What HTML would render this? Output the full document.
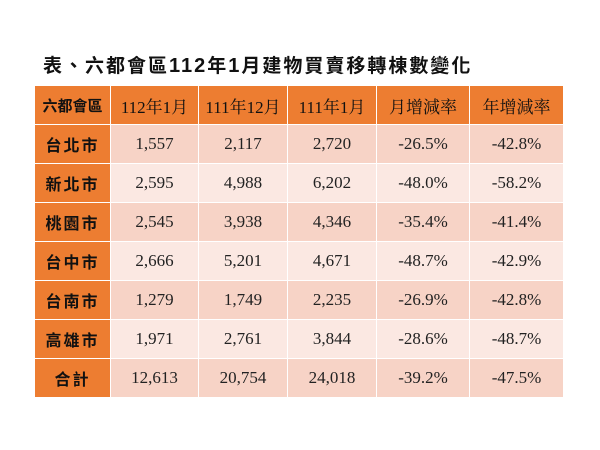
<!DOCTYPE html>
<html><head><meta charset="utf-8"><style>
body{margin:0;width:600px;height:450px;background:#fff;overflow:hidden;position:relative}
#title{position:absolute;left:43px;top:51px;font:bold 19px "Liberation Sans","Noto Sans CJK TC",sans-serif;letter-spacing:2px;color:#111;white-space:nowrap}
table{position:absolute;left:34px;top:85px;border-collapse:collapse;table-layout:fixed}
td,th{height:38px;padding:0;text-align:center;border:1px solid #fff;font:17px "Liberation Serif","Noto Serif CJK SC",serif;color:#222}
th{background:#ED7D31;font-weight:normal;color:#111}
td.n{background:#ED7D31;font:bold 16px "Liberation Sans","Noto Sans CJK TC",sans-serif;letter-spacing:2px;color:#111}
tr.o td{background:#F7D3C6}
tr.e td{background:#FBE8E2}
tr.o td.n,tr.e td.n{background:#ED7D31}
</style></head><body>
<div id="title">表、六都會區<span style="font-size:20px">112</span>年<span style="font-size:20px">1</span>月建物買賣移轉棟數變化</div>
<table>
<colgroup><col style="width:76px"><col style="width:88px"><col style="width:89px"><col style="width:89px"><col style="width:93px"><col style="width:94px"></colgroup>
<tr><th style="font-family:'Liberation Sans','Noto Sans CJK TC',sans-serif;font-weight:bold;font-size:15px">六都會區</th><th>112年1月</th><th>111年12月</th><th>111年1月</th><th>月增減率</th><th>年增減率</th></tr>
<tr class="o"><td class="n">台北市</td><td>1,557</td><td>2,117</td><td>2,720</td><td>-26.5%</td><td>-42.8%</td></tr>
<tr class="e"><td class="n">新北市</td><td>2,595</td><td>4,988</td><td>6,202</td><td>-48.0%</td><td>-58.2%</td></tr>
<tr class="o"><td class="n">桃園市</td><td>2,545</td><td>3,938</td><td>4,346</td><td>-35.4%</td><td>-41.4%</td></tr>
<tr class="e"><td class="n">台中市</td><td>2,666</td><td>5,201</td><td>4,671</td><td>-48.7%</td><td>-42.9%</td></tr>
<tr class="o"><td class="n">台南市</td><td>1,279</td><td>1,749</td><td>2,235</td><td>-26.9%</td><td>-42.8%</td></tr>
<tr class="e"><td class="n">高雄市</td><td>1,971</td><td>2,761</td><td>3,844</td><td>-28.6%</td><td>-48.7%</td></tr>
<tr class="o"><td class="n">合計</td><td>12,613</td><td>20,754</td><td>24,018</td><td>-39.2%</td><td>-47.5%</td></tr>
</table>
</body></html>
